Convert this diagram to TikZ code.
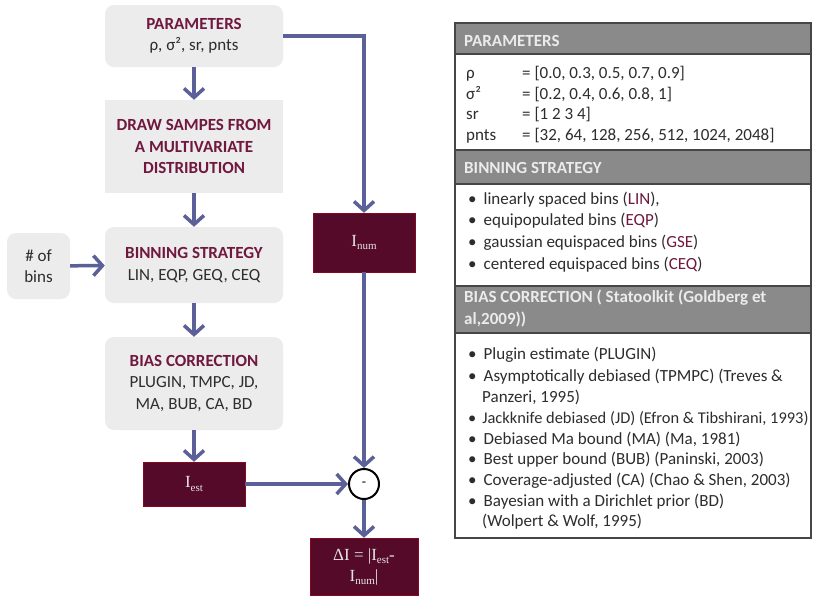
\documentclass[tikz,border=0pt]{standalone}
\usepackage{fontspec}
\setmainfont{Carlito}
\newfontfamily\serifbox{Liberation Serif}
\usetikzlibrary{positioning}
\usetikzlibrary{arrows.meta}

\definecolor{boxgray}{RGB}{236,236,236}
\definecolor{wine}{RGB}{84,10,40}
\definecolor{winetext}{RGB}{112,24,62}
\definecolor{flowblue}{RGB}{92,96,152}
\definecolor{headgray}{RGB}{138,138,138}
\definecolor{rulegray}{RGB}{70,70,70}
\definecolor{inktext}{RGB}{45,45,45}

\newcommand{\boxtitle}[1]{{\color{winetext}\bfseries #1}}
\newcommand{\lowsub}[1]{\raisebox{-0.4ex}{\fontsize{11}{11}\selectfont #1}}
\newcommand{\abbr}[1]{{\color{winetext}#1}}

\begin{document}
\begin{tikzpicture}[x = 1pt, y = -1pt,
	box/.style = {fill = boxgray, rounded corners = 9pt, minimum width = 178pt, inner sep = 0pt, align = center, text = inktext, font = \fontsize{17}{21.5}\selectfont},
	sqbox/.style = {box, rounded corners = 0pt},
	winebox/.style = {fill = wine, draw = wine!70!red, minimum width = 102pt, inner sep = 0pt, align = center, text = white!90!black, font = \serifbox\fontsize{17}{21}\selectfont},
	flow/.style = {flowblue, line width = 3.5pt, -{Straight Barb[length = 9pt, width = 20pt]}},
	row/.style = {anchor = base west, inner sep = 0pt, text = inktext, font = \fontsize{17}{19}\selectfont},
	head/.style = {row, text = white!92!black, font = \fontsize{17}{19}\selectfont\bfseries}]
	\path [use as bounding box, fill = white] (0, 0) rectangle (813, 597);

	% flow chart
	\node (params) [box, minimum height = 62pt] at (194, 36) {\boxtitle{PARAMETERS}\\ρ, σ², sr, pnts};
	\node (samples) [sqbox, minimum height = 93pt] at (194, 146.5) {\boxtitle{DRAW SAMPES FROM}\\\boxtitle{A MULTIVARIATE}\\\boxtitle{DISTRIBUTION}};
	\node (binning) [box, minimum height = 76pt] at (194, 265) {\boxtitle{BINNING STRATEGY}\\LIN, EQP, GEQ, CEQ};
	\node (nbins) [box, minimum width = 63pt, minimum height = 66pt] at (38.5, 266) {\# of\\bins};
	\node (bias) [box, minimum height = 93pt] at (194, 383.5) {\boxtitle{BIAS CORRECTION}\\PLUGIN, TMPC, JD,\\MA, BUB, CA, BD};
	\node (Iest) [winebox, minimum height = 44pt] at (194, 484) {I\lowsub{est}};
	\node (Inum) [winebox, minimum height = 59pt] at (364, 242.5) {I\lowsub{num}};
	\node (minus) [circle, draw = black, line width = 2pt, fill = white, minimum size = 30pt, inner sep = 0pt, font = \fontsize{14}{14}\selectfont] at (364, 484) {-};
	\node (dI) [winebox, minimum width = 108pt, minimum height = 57pt] at (364, 566.5) {ΔI = |I\lowsub{est}-\\I\lowsub{num}|};

	\draw [flow] (params) -- (samples);
	\draw [flow] (samples) -- (binning);
	\draw [flow] (nbins) -- (binning);
	\draw [flow] (binning) -- (bias);
	\draw [flow] (bias) -- (Iest);
	\draw [flow] (params.east) -| (Inum.north);
	\draw [flow] (Inum) -- (minus);
	\draw [flow] (Iest) -- (minus);
	\draw [flow] (minus) -- (dI);

	% table
	\fill [headgray] (455, 23) rectangle (811, 54);
	\fill [headgray] (455, 150) rectangle (811, 184);
	\fill [headgray] (455, 286) rectangle (811, 333);
	\draw [rulegray, line width = 1.2pt] (455, 54) -- (811, 54);
	\draw [rulegray, line width = 1.2pt] (455, 150) -- (811, 150);
	\draw [rulegray, line width = 1.2pt] (455, 184) -- (811, 184);
	\draw [rulegray, line width = 1.2pt] (455, 286) -- (811, 286);
	\draw [rulegray, line width = 1.2pt] (455, 333) -- (811, 333);
	\draw [rulegray, line width = 1.6pt] (455, 23) rectangle (811, 538);

	\node (hparams) [head] at (464, 46) {PARAMETERS};
	\node (rho) [row] at (466, 78) {ρ};
	\node (sigma) [row] at (466, 99) {σ²};
	\node (sr) [row] at (466, 119) {sr};
	\node (pnts) [row] at (466, 140) {pnts};
	\node (rhoval) [row] at (522, 78) {= [0.0, 0.3, 0.5, 0.7, 0.9]};
	\node (sigmaval) [row] at (522, 99) {= [0.2, 0.4, 0.6, 0.8, 1]};
	\node (srval) [row] at (522, 119) {= [1 2 3 4]};
	\node (pntsval) [row] at (522, 140) {= [32, 64, 128, 256, 512, 1024, 2048]};

	\node (hbinning) [head] at (464, 173) {BINNING STRATEGY};
	\node (lin) [row] at (468, 204) {•\hspace{7pt}linearly spaced bins (\abbr{LIN}),};
	\node (eqp) [row] at (468, 225) {•\hspace{7pt}equipopulated bins (\abbr{EQP})};
	\node (gse) [row] at (468, 247) {•\hspace{7pt}gaussian equispaced bins (\abbr{GSE})};
	\node (ceq) [row] at (468, 269) {•\hspace{7pt}centered equispaced bins (\abbr{CEQ})};

	\node (hbias) [head] at (464, 302) {BIAS CORRECTION ( Statoolkit (Goldberg et};
	\node (hbiasb) [head] at (464, 324) {al,2009))};
	\node (plugin) [row] at (468, 359) {•\hspace{7pt}Plugin estimate (PLUGIN)};
	\node (tpmpc) [row] at (468, 381) {•\hspace{7pt}Asymptotically debiased (TPMPC) (Treves \&};
	\node (tpmpcb) [row] at (482, 402) {Panzeri, 1995)};
	\node (jd) [row, font = \fontsize{16.4}{19}\selectfont] at (468, 423) {•\hspace{6pt}Jackknife debiased (JD) (Efron \& Tibshirani, 1993)};
	\node (ma) [row] at (468, 444) {•\hspace{7pt}Debiased Ma bound (MA) (Ma, 1981)};
	\node (bub) [row] at (468, 464) {•\hspace{7pt}Best upper bound (BUB) (Paninski, 2003)};
	\node (ca) [row] at (468, 485) {•\hspace{7pt}Coverage-adjusted (CA) (Chao \& Shen, 2003)};
	\node (bd) [row] at (468, 506) {•\hspace{7pt}Bayesian with a Dirichlet prior (BD)};
	\node (bdb) [row] at (482, 526) {(Wolpert \& Wolf, 1995)};
\end{tikzpicture}
\end{document}
